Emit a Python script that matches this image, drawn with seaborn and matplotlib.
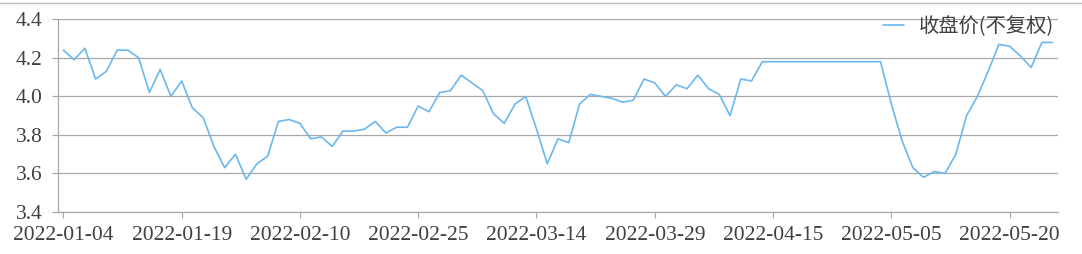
import matplotlib
matplotlib.use("Agg")
import matplotlib.pyplot as plt
from matplotlib.lines import Line2D
import seaborn as sns
import pandas as pd

# ---- data ----
holidays = ["2022-01-31", "2022-02-01", "2022-02-02", "2022-02-03", "2022-02-04",
            "2022-04-04", "2022-04-05", "2022-05-02", "2022-05-03", "2022-05-04"]
dates = [d.strftime("%Y-%m-%d") for d in
         pd.bdate_range("2022-01-04", "2022-05-26", freq="C", holidays=holidays)]

close_price = [
    4.24, 4.19, 4.25, 4.09, 4.13, 4.24, 4.24, 4.20, 4.02, 4.14,
    4.00, 4.08, 3.94, 3.89, 3.74, 3.63, 3.70, 3.57, 3.65, 3.69,
    3.87, 3.88, 3.86, 3.78, 3.79, 3.74, 3.82, 3.82, 3.83, 3.87,
    3.81, 3.84, 3.84, 3.95, 3.92, 4.02, 4.03, 4.11, 4.07, 4.03,
    3.91, 3.86, 3.96, 4.00, 3.83, 3.65, 3.78, 3.76, 3.96, 4.01,
    4.00, 3.99, 3.97, 3.98, 4.09, 4.07, 4.00, 4.06, 4.04, 4.11,
    4.04, 4.01, 3.90, 4.09, 4.08,
    4.18, 4.18, 4.18, 4.18, 4.18, 4.18, 4.18, 4.18, 4.18, 4.18, 4.18, 4.18,
    3.96, 3.77, 3.63, 3.58, 3.61, 3.60, 3.70, 3.90, 4.00, 4.13,
    4.27, 4.26, 4.21, 4.15, 4.28, 4.28,
]
series_name = "收盘价(不复权)"
y_ticks = [3.4, 3.6, 3.8, 4.0, 4.2, 4.4]
y_tick_labels = ["3.4", "3.6", "3.8", "4.0", "4.2", "4.4"]
x_tick_step = 11

df = pd.DataFrame({"pos": range(len(dates)), "date": dates, "close": close_price})

# ---- style ----
sns.set_theme(style="white")
plt.rcParams["font.family"] = ["Liberation Serif", "Noto Sans CJK SC", "DejaVu Sans"]

W, H, DPI = 1082, 254, 100
fig = plt.figure(figsize=(W / DPI, H / DPI), dpi=DPI)
ax = fig.add_axes([58 / W, 1 - 212 / H, (1058 - 58) / W, (212 - 19.3) / H])

line_color = "#6ab8ef"
grid_color = "#a8a8a8"
text_color = "#404040"

sns.lineplot(data=df, x="pos", y="close", ax=ax, color=line_color,
             linewidth=1.2, label=series_name)

ax.set_xlim(-0.5, len(dates) - 0.5)
ax.set_ylim(3.4, 4.4)
ax.set_yticks(y_ticks)
ax.set_yticklabels(y_tick_labels)
xt = list(range(0, len(dates), x_tick_step))
ax.set_xticks(xt)
ax.set_xticklabels([dates[i] for i in xt])
ax.set_xlabel("")
ax.set_ylabel("")

ax.grid(axis="y", color=grid_color, linewidth=0.9)
ax.grid(axis="x", visible=False)
for s in ["top", "right"]:
    ax.spines[s].set_visible(False)
for s in ["left", "bottom"]:
    ax.spines[s].set_color(grid_color)
    ax.spines[s].set_linewidth(0.9)

ax.tick_params(axis="both", which="major", length=4, width=0.9, color=grid_color,
               labelsize=15.5, labelcolor=text_color, direction="out")
ax.tick_params(axis="y", pad=7)
ax.tick_params(axis="x", pad=6)
ax.tick_params(left=True, bottom=True)

leg = ax.legend(loc="upper right", bbox_to_anchor=(1054 / W, 1 - 16 / H),
                bbox_transform=fig.transFigure, frameon=False,
                prop={"family": ["Noto Sans CJK SC", "DejaVu Sans"], "size": 14.6},
                handlelength=1.0, handletextpad=0.75, borderaxespad=0, borderpad=0)
for t in leg.get_texts():
    t.set_color(text_color)

# chart border at the top
fig.add_artist(Line2D([0, 1], [1 - 2.5 / H, 1 - 2.5 / H], transform=fig.transFigure,
                      color="#bdbdbd", linewidth=1.0))

fig.savefig("out.png", dpi=DPI)
